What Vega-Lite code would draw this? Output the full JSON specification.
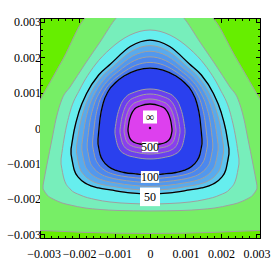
{
"$schema":"https://vega.github.io/schema/vega-lite/v6.json",
"width":220,"height":220,"autosize":"none",
"padding":{"left":40,"top":18,"right":13,"bottom":35},
"background":"white",
"config":{"view":{"stroke":"black","strokeWidth":1,"fill":"#66ee00"},
"axis":{"labelFont":"Liberation Serif","labelFontSize":12,"labelColor":"black","tickColor":"black","domainColor":"black","grid":false,"labelOverlap":false,"labelFlush":false,"labelBound":false}},
"datasets":{
"regions":[
{"l":"L1","x":-0.00313,"t":0.000738,"b":-0.002887},{"l":"L1","x":-0.00245,"t":0.001944,"b":-0.002915},{"l":"L1","x":-0.001803,"t":0.003127,"b":-0.002944},{"l":"L1","x":0,"t":0.00392,"b":-0.002972},{"l":"L1","x":0.001746,"t":0.003127,"b":-0.002944},{"l":"L1","x":0.002394,"t":0.002028,"b":-0.002915},{"l":"L1","x":0.003127,"t":0.000761,"b":-0.002887},
{"l":"L2","x":-0.003014,"t":-0.001606,"b":-0.001718},{"l":"L2","x":-0.002901,"t":-0.001014,"b":-0.001887},{"l":"L2","x":-0.002761,"t":-0.00031,"b":-0.001986},{"l":"L2","x":-0.002648,"t":0.000254,"b":-0.002042},{"l":"L2","x":-0.002479,"t":0.000817,"b":-0.002113},{"l":"L2","x":-0.002254,"t":0.001155,"b":-0.002169},{"l":"L2","x":-0.001831,"t":0.001803,"b":-0.002254},{"l":"L2","x":-0.001408,"t":0.002423,"b":-0.002296},{"l":"L2","x":-0.00093,"t":0.003127,"b":-0.002324},{"l":"L2","x":0,"t":0.003634,"b":-0.002338},{"l":"L2","x":0.00093,"t":0.003127,"b":-0.002324},{"l":"L2","x":0.001408,"t":0.002423,"b":-0.002296},{"l":"L2","x":0.001831,"t":0.001803,"b":-0.002254},{"l":"L2","x":0.002254,"t":0.001155,"b":-0.002169},{"l":"L2","x":0.002479,"t":0.000817,"b":-0.002113},{"l":"L2","x":0.002648,"t":0.000254,"b":-0.002042},{"l":"L2","x":0.002761,"t":-0.00031,"b":-0.001986},{"l":"L2","x":0.002901,"t":-0.001014,"b":-0.001887},{"l":"L2","x":0.003014,"t":-0.001606,"b":-0.001718},
{"l":"L3","x":-0.002507,"t":-0.000873,"b":-0.001014},{"l":"L3","x":-0.002423,"t":-0.00031,"b":-0.001437},{"l":"L3","x":-0.002254,"t":0.000451,"b":-0.001718},{"l":"L3","x":-0.001972,"t":0.001099,"b":-0.001887},{"l":"L3","x":-0.001549,"t":0.001775,"b":-0.002014},{"l":"L3","x":-0.001127,"t":0.002225,"b":-0.002085},{"l":"L3","x":-0.000563,"t":0.00262,"b":-0.002127},{"l":"L3","x":0,"t":0.002761,"b":-0.002141},{"l":"L3","x":0.000563,"t":0.00262,"b":-0.002127},{"l":"L3","x":0.001127,"t":0.002225,"b":-0.002085},{"l":"L3","x":0.001549,"t":0.001775,"b":-0.002014},{"l":"L3","x":0.001972,"t":0.001099,"b":-0.001887},{"l":"L3","x":0.002254,"t":0.000451,"b":-0.001718},{"l":"L3","x":0.002423,"t":-0.00031,"b":-0.001437},{"l":"L3","x":0.002507,"t":-0.000873,"b":-0.001014},
{"l":"L4","x":-0.002225,"t":-0.000592,"b":-0.000732},{"l":"L4","x":-0.002135,"t":-0.000056,"b":-0.001183},{"l":"L4","x":-0.002003,"t":0.000451,"b":-0.001408},{"l":"L4","x":-0.00178,"t":0.000986,"b":-0.001577},{"l":"L4","x":-0.001448,"t":0.001493,"b":-0.00169},{"l":"L4","x":-0.001113,"t":0.001803,"b":-0.001746},{"l":"L4","x":-0.000556,"t":0.002296,"b":-0.001831},{"l":"L4","x":0,"t":0.002479,"b":-0.001859},{"l":"L4","x":0.000556,"t":0.002296,"b":-0.001831},{"l":"L4","x":0.001113,"t":0.001803,"b":-0.001746},{"l":"L4","x":0.001448,"t":0.001493,"b":-0.00169},{"l":"L4","x":0.00178,"t":0.000986,"b":-0.001577},{"l":"L4","x":0.002003,"t":0.000451,"b":-0.001408},{"l":"L4","x":0.002135,"t":-0.000056,"b":-0.001183},{"l":"L4","x":0.002225,"t":-0.000592,"b":-0.000732},
{"l":"L5","x":-0.002073,"t":-0.000535,"b":-0.000676},{"l":"L5","x":-0.001989,"t":0.000011,"b":-0.001096},{"l":"L5","x":-0.001865,"t":0.000501,"b":-0.001313},{"l":"L5","x":-0.001659,"t":0.000997,"b":-0.001479},{"l":"L5","x":-0.001349,"t":0.001454,"b":-0.001592},{"l":"L5","x":-0.001037,"t":0.001735,"b":-0.001648},{"l":"L5","x":-0.000518,"t":0.002163,"b":-0.001724},{"l":"L5","x":0,"t":0.002321,"b":-0.001752},{"l":"L5","x":0.000518,"t":0.002163,"b":-0.001724},{"l":"L5","x":0.001037,"t":0.001735,"b":-0.001648},{"l":"L5","x":0.001349,"t":0.001454,"b":-0.001592},{"l":"L5","x":0.001659,"t":0.000997,"b":-0.001479},{"l":"L5","x":0.001865,"t":0.000501,"b":-0.001313},{"l":"L5","x":0.001989,"t":0.000011,"b":-0.001096},{"l":"L5","x":0.002073,"t":-0.000535,"b":-0.000676},
{"l":"L6","x":-0.001921,"t":-0.000479,"b":-0.00062},{"l":"L6","x":-0.001842,"t":0.000079,"b":-0.001008},{"l":"L6","x":-0.00173,"t":0.000552,"b":-0.001217},{"l":"L6","x":-0.001538,"t":0.001008,"b":-0.00138},{"l":"L6","x":-0.001251,"t":0.001414,"b":-0.001493},{"l":"L6","x":-0.000961,"t":0.001668,"b":-0.001549},{"l":"L6","x":-0.00048,"t":0.002031,"b":-0.001617},{"l":"L6","x":0,"t":0.002163,"b":-0.001645},{"l":"L6","x":0.00048,"t":0.002031,"b":-0.001617},{"l":"L6","x":0.000961,"t":0.001668,"b":-0.001549},{"l":"L6","x":0.001251,"t":0.001414,"b":-0.001493},{"l":"L6","x":0.001538,"t":0.001008,"b":-0.00138},{"l":"L6","x":0.00173,"t":0.000552,"b":-0.001217},{"l":"L6","x":0.001842,"t":0.000079,"b":-0.001008},{"l":"L6","x":0.001921,"t":-0.000479,"b":-0.00062},
{"l":"L7","x":-0.001769,"t":-0.000423,"b":-0.000563},{"l":"L7","x":-0.001699,"t":0.000146,"b":-0.000921},{"l":"L7","x":-0.001592,"t":0.000603,"b":-0.001121},{"l":"L7","x":-0.001414,"t":0.00102,"b":-0.001282},{"l":"L7","x":-0.001149,"t":0.001375,"b":-0.001394},{"l":"L7","x":-0.000885,"t":0.0016,"b":-0.001451},{"l":"L7","x":-0.000442,"t":0.001899,"b":-0.00151},{"l":"L7","x":0,"t":0.002006,"b":-0.001538},{"l":"L7","x":0.000442,"t":0.001899,"b":-0.00151},{"l":"L7","x":0.000885,"t":0.0016,"b":-0.001451},{"l":"L7","x":0.001149,"t":0.001375,"b":-0.001394},{"l":"L7","x":0.001414,"t":0.00102,"b":-0.001282},{"l":"L7","x":0.001592,"t":0.000603,"b":-0.001121},{"l":"L7","x":0.001699,"t":0.000146,"b":-0.000921},{"l":"L7","x":0.001769,"t":-0.000423,"b":-0.000563},
{"l":"L8","x":-0.001617,"t":-0.000366,"b":-0.000507},{"l":"L8","x":-0.001549,"t":0.000214,"b":-0.000834},{"l":"L8","x":-0.001454,"t":0.000654,"b":-0.001025},{"l":"L8","x":-0.001293,"t":0.001031,"b":-0.001183},{"l":"L8","x":-0.001051,"t":0.001335,"b":-0.001296},{"l":"L8","x":-0.000808,"t":0.001532,"b":-0.001352},{"l":"L8","x":-0.000404,"t":0.001766,"b":-0.001403},{"l":"L8","x":0,"t":0.001848,"b":-0.001431},{"l":"L8","x":0.000404,"t":0.001766,"b":-0.001403},{"l":"L8","x":0.000808,"t":0.001532,"b":-0.001352},{"l":"L8","x":0.001051,"t":0.001335,"b":-0.001296},{"l":"L8","x":0.001293,"t":0.001031,"b":-0.001183},{"l":"L8","x":0.001454,"t":0.000654,"b":-0.001025},{"l":"L8","x":0.001549,"t":0.000214,"b":-0.000834},{"l":"L8","x":0.001617,"t":-0.000366,"b":-0.000507},
{"l":"L9","x":-0.001465,"t":-0.00031,"b":-0.000451},{"l":"L9","x":-0.001406,"t":0.000282,"b":-0.000746},{"l":"L9","x":-0.001318,"t":0.000704,"b":-0.00093},{"l":"L9","x":-0.001172,"t":0.001042,"b":-0.001085},{"l":"L9","x":-0.000952,"t":0.001296,"b":-0.001197},{"l":"L9","x":-0.000732,"t":0.001465,"b":-0.001254},{"l":"L9","x":-0.000366,"t":0.001634,"b":-0.001296},{"l":"L9","x":0,"t":0.00169,"b":-0.001324},{"l":"L9","x":0.000366,"t":0.001634,"b":-0.001296},{"l":"L9","x":0.000732,"t":0.001465,"b":-0.001254},{"l":"L9","x":0.000952,"t":0.001296,"b":-0.001197},{"l":"L9","x":0.001172,"t":0.001042,"b":-0.001085},{"l":"L9","x":0.001318,"t":0.000704,"b":-0.00093},{"l":"L9","x":0.001406,"t":0.000282,"b":-0.000746},{"l":"L9","x":0.001465,"t":-0.00031,"b":-0.000451},
{"l":"L10","x":-0.000986,"t":-0.000045,"b":-0.000158},{"l":"L10","x":-0.000937,"t":0.000273,"b":-0.000411},{"l":"L10","x":-0.000848,"t":0.000594,"b":-0.00062},{"l":"L10","x":-0.00069,"t":0.000868,"b":-0.000744},{"l":"L10","x":-0.000444,"t":0.001008,"b":-0.00082},{"l":"L10","x":0,"t":0.001099,"b":-0.000873},{"l":"L10","x":0.000444,"t":0.001008,"b":-0.00082},{"l":"L10","x":0.00069,"t":0.000868,"b":-0.000744},{"l":"L10","x":0.000848,"t":0.000594,"b":-0.00062},{"l":"L10","x":0.000937,"t":0.000273,"b":-0.000411},{"l":"L10","x":0.000986,"t":-0.000045,"b":-0.000158},
{"l":"L11","x":-0.000845,"t":-0.000039,"b":-0.000132},{"l":"L11","x":-0.000803,"t":0.000239,"b":-0.000344},{"l":"L11","x":-0.000727,"t":0.000518,"b":-0.000521},{"l":"L11","x":-0.000592,"t":0.000758,"b":-0.000623},{"l":"L11","x":-0.00038,"t":0.000879,"b":-0.000687},{"l":"L11","x":0,"t":0.000958,"b":-0.000732},{"l":"L11","x":0.00038,"t":0.000879,"b":-0.000687},{"l":"L11","x":0.000592,"t":0.000758,"b":-0.000623},{"l":"L11","x":0.000727,"t":0.000518,"b":-0.000521},{"l":"L11","x":0.000803,"t":0.000239,"b":-0.000344},{"l":"L11","x":0.000845,"t":-0.000039,"b":-0.000132},
{"l":"L12","x":-0.000732,"t":-0.000034,"b":-0.000107},{"l":"L12","x":-0.000696,"t":0.000206,"b":-0.000279},{"l":"L12","x":-0.000631,"t":0.000442,"b":-0.00042},{"l":"L12","x":-0.000513,"t":0.000645,"b":-0.000504},{"l":"L12","x":-0.00033,"t":0.000749,"b":-0.000555},{"l":"L12","x":0,"t":0.000817,"b":-0.000592},{"l":"L12","x":0.00033,"t":0.000749,"b":-0.000555},{"l":"L12","x":0.000513,"t":0.000645,"b":-0.000504},{"l":"L12","x":0.000631,"t":0.000442,"b":-0.00042},{"l":"L12","x":0.000696,"t":0.000206,"b":-0.000279},{"l":"L12","x":0.000732,"t":-0.000034,"b":-0.000107},
{"l":"L13","x":-0.00062,"t":-0.000028,"b":-0.000085},{"l":"L13","x":-0.000592,"t":0.000169,"b":-0.000225},{"l":"L13","x":-0.000535,"t":0.000366,"b":-0.000338},{"l":"L13","x":-0.000434,"t":0.000535,"b":-0.000408},{"l":"L13","x":-0.000282,"t":0.00062,"b":-0.000451},{"l":"L13","x":0,"t":0.000676,"b":-0.000479},{"l":"L13","x":0.000282,"t":0.00062,"b":-0.000451},{"l":"L13","x":0.000434,"t":0.000535,"b":-0.000408},{"l":"L13","x":0.000535,"t":0.000366,"b":-0.000338},{"l":"L13","x":0.000592,"t":0.000169,"b":-0.000225},{"l":"L13","x":0.00062,"t":-0.000028,"b":-0.000085}
],
"labs":[{"lab":"∞","x":0,"y":0.00031},{"lab":"500","x":0,"y":-0.000535},{"lab":"100","x":0,"y":-0.00138},{"lab":"50","x":0,"y":-0.00194}]
},
"resolve":{"axis":{"x":"independent","y":"independent"}},
"layer":[
{"data":{"name":"regions"},
"mark":{"type":"area","interpolate":"monotone","clip":true,"stroke":"#a0a0a0","strokeWidth":1},
"encoding":{
"x":{"field":"x","type":"quantitative","scale":{"domain":[-0.0031,0.0031],"nice":false,"zero":false},
"axis":{"orient":"bottom","title":null,"values":[-0.003,-0.0028,-0.0026,-0.0024,-0.0022,-0.002,-0.0018,-0.0016,-0.0014,-0.0012,-0.001,-0.0008,-0.0006,-0.0004,-0.0002,0,0.0002,0.0004,0.0006,0.0008,0.001,0.0012,0.0014,0.0016,0.0018,0.002,0.0022,0.0024,0.0026,0.0028,0.003],"format":"~g","labelExpr":"abs(datum.value*1000-round(datum.value*1000))<0.01 ? datum.label : ''","tickSize":{"condition":{"test":"abs(datum.value*1000-round(datum.value*1000))<0.01","value":-4.5},"value":-2.5},"labelPadding":15}},
"y":{"field":"t","type":"quantitative","scale":{"domain":[-0.0031,0.0031],"nice":false,"zero":false},
"axis":{"orient":"left","title":null,"values":[-0.003,-0.0028,-0.0026,-0.0024,-0.0022,-0.002,-0.0018,-0.0016,-0.0014,-0.0012,-0.001,-0.0008,-0.0006,-0.0004,-0.0002,0,0.0002,0.0004,0.0006,0.0008,0.001,0.0012,0.0014,0.0016,0.0018,0.002,0.0022,0.0024,0.0026,0.0028,0.003],"format":"~g","labelExpr":"abs(datum.value*1000-round(datum.value*1000))<0.01 ? datum.label : ''","tickSize":{"condition":{"test":"abs(datum.value*1000-round(datum.value*1000))<0.01","value":-4.5},"value":-2.5},"labelPadding":4}},
"y2":{"field":"b"},
"fill":{"field":"l","type":"nominal","legend":null,"scale":{"domain":["L1","L2","L3","L4","L5","L6","L7","L8","L9","L10","L11","L12","L13"],"range":["#77ee66","#77eebb","#66eeee","#5cc4ee","#58aaee","#5298ee","#4c88ee","#4678ee","#2a40ee","#6a40ee","#8a40ee","#a840ee","#dd40ee"]}}
}},
{"data":{"name":"regions"},
"transform":[{"filter":{"field":"l","oneOf":["L4","L9","L13"]}}],
"mark":{"type":"area","interpolate":"monotone","clip":true,"fillOpacity":0,"fill":"white","stroke":"black","strokeWidth":1.3},
"encoding":{
"x":{"field":"x","type":"quantitative","axis":{"orient":"top","title":null,"labels":false,"values":[-0.003,-0.0028,-0.0026,-0.0024,-0.0022,-0.002,-0.0018,-0.0016,-0.0014,-0.0012,-0.001,-0.0008,-0.0006,-0.0004,-0.0002,0,0.0002,0.0004,0.0006,0.0008,0.001,0.0012,0.0014,0.0016,0.0018,0.002,0.0022,0.0024,0.0026,0.0028,0.003],"tickSize":{"condition":{"test":"abs(datum.value*1000-round(datum.value*1000))<0.01","value":-4.5},"value":-2.5}}},
"y":{"field":"t","type":"quantitative","axis":{"orient":"right","title":null,"labels":false,"values":[-0.003,-0.0028,-0.0026,-0.0024,-0.0022,-0.002,-0.0018,-0.0016,-0.0014,-0.0012,-0.001,-0.0008,-0.0006,-0.0004,-0.0002,0,0.0002,0.0004,0.0006,0.0008,0.001,0.0012,0.0014,0.0016,0.0018,0.002,0.0022,0.0024,0.0026,0.0028,0.003],"tickSize":{"condition":{"test":"abs(datum.value*1000-round(datum.value*1000))<0.01","value":-4.5},"value":-2.5}}},
"y2":{"field":"b"},
"detail":{"field":"l"}
}},
{"data":{"name":"labs"},
"mark":{"type":"point","filled":true,"fill":"white","opacity":1,"strokeWidth":0},
"encoding":{
"x":{"field":"x","type":"quantitative","axis":null},
"y":{"field":"y","type":"quantitative","axis":null},
"shape":{"field":"lab","type":"nominal","legend":null,"scale":{"domain":["∞","500","100","50"],"range":["M-1,-0.93H1V0.93H-1Z","M-1,-0.65H1V0.65H-1Z","M-1,-0.65H1V0.65H-1Z","M-1,-0.93H1V0.93H-1Z"]}},
"size":{"field":"lab","type":"ordinal","legend":null,"scale":{"domain":["∞","500","100","50"],"range":[196,400,400,196]}}
}},
{"data":{"name":"labs"},
"mark":{"type":"text","font":"Liberation Serif","fontSize":12,"color":"black","baseline":"middle","align":"center"},
"encoding":{
"x":{"field":"x","type":"quantitative","axis":null},
"y":{"field":"y","type":"quantitative","axis":null},
"text":{"field":"lab"}
}},
{"data":{"values":[{"x":0,"y":0}]},
"mark":{"type":"point","filled":true,"color":"black","size":6,"opacity":1},
"encoding":{
"x":{"field":"x","type":"quantitative","axis":null},
"y":{"field":"y","type":"quantitative","axis":null}
}}
]
}
